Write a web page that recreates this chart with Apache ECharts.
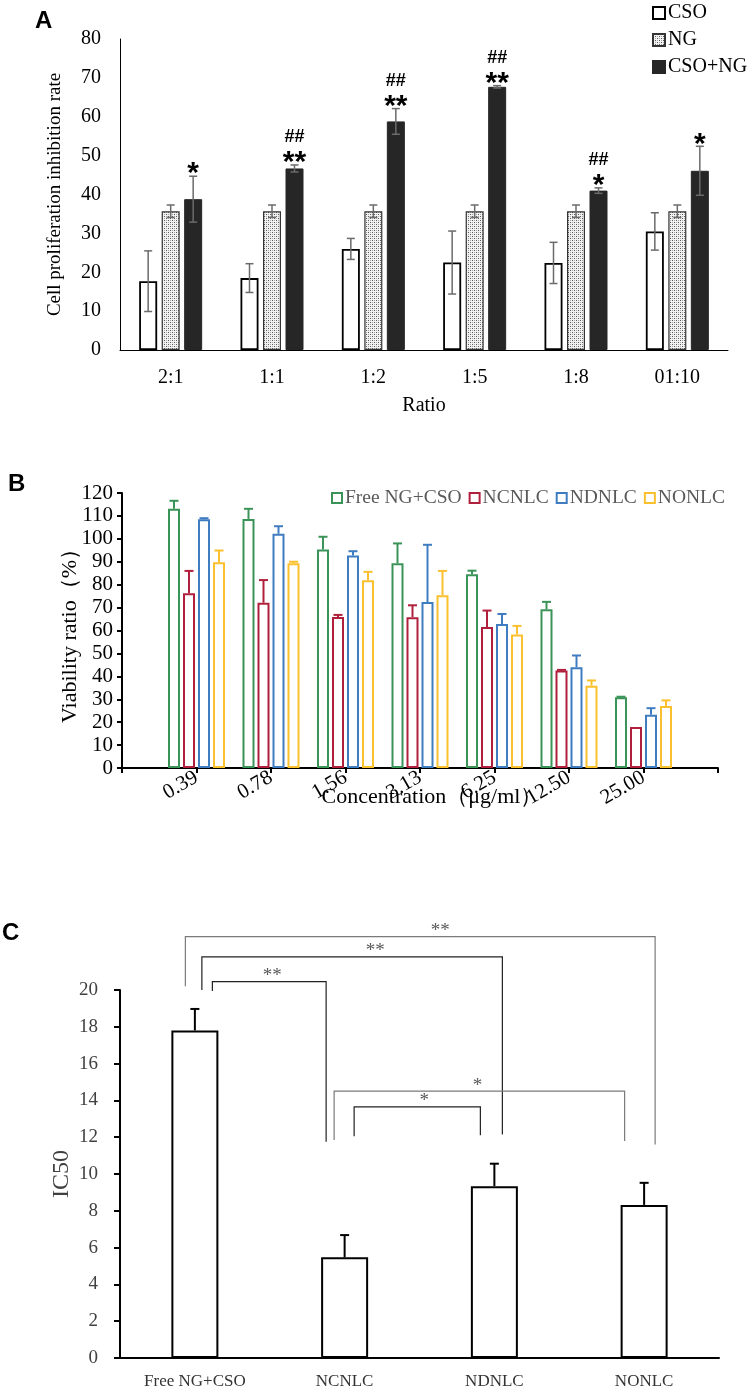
<!DOCTYPE html>
<html><head><meta charset="utf-8">
<script src="https://cdn.jsdelivr.net/npm/echarts@6/dist/echarts.min.js"></script>
<style>html,body{margin:0;padding:0;background:#fff}#c{width:755px;height:1390px}</style>
</head><body><div id="c"></div>
<script>
// ---------- Panel A data ----------
const ratioCats = ['2:1', '1:1', '1:2', '1:5', '1:8', '01:10'];
const csoMean = [17.7, 18.5, 26.0, 22.5, 22.4, 30.5];
const csoSd = [7.8, 3.7, 2.7, 8.1, 5.3, 4.8];
const ngMean = [35.7, 35.7, 35.7, 35.7, 35.7, 35.7];
const ngSd = [1.6, 1.6, 1.6, 1.6, 1.6, 1.6];
const comboMean = [38.8, 46.7, 58.8, 67.7, 41.0, 46.1];
const comboSd = [5.9, 0.9, 3.3, 0.3, 0.7, 6.3];
const comboStars = ['*', '**', '**', '**', '*', '*'];
const comboHash = ['', '##', '##', '##', '##', ''];

// ---------- Panel B data ----------
const concCats = ['0.39', '0.78', '1.56', '3.13', '6.25', '12.50', '25.00'];
const freeMean = [113.1, 108.7, 95.3, 89.3, 84.6, 69.3, 30.9];
const freeSd = [3.5, 4.4, 5.6, 8.7, 1.5, 3.2, 0.2];
const ncMean = [76.3, 72.1, 65.9, 65.8, 61.5, 42.6, 17.9];
const ncSd = [9.7, 9.9, 0.9, 5.2, 7.2, 0.2, 0];
const ndMean = [108.6, 102.2, 92.7, 72.4, 62.8, 44.0, 23.2];
const ndSd = [0.4, 3.3, 1.9, 25.0, 4.4, 5.1, 2.9];
const noMean = [89.8, 89.4, 81.9, 75.4, 58.3, 35.9, 27.1];
const noSd = [5.1, 0.6, 3.7, 10.6, 3.7, 2.3, 2.4];

// ---------- Panel C data ----------
const ic50Cats = ['Free NG+CSO', 'NCNLC', 'NDNLC', 'NONLC'];
const ic50Mean = [17.8, 5.47, 9.34, 8.32];
const ic50Sd = [1.17, 1.21, 1.22, 1.2];
const sigPairs = [[0, 3], [0, 2], [0, 1], [1, 3], [1, 2]];
const sigLabels = ['**', '**', '**', '*', '*'];
const bracketTop = [22.9, 21.8, 20.45, 14.5, 13.65];
const bracketLegL = [20.2, 20.0, 19.95, 11.85, 12.05];
const bracketLegR = [11.6, 12.15, 11.75, 11.8, 12.1];

// ---------- styling ----------
const serif = "'Liberation Serif','Times New Roman',serif";
const sans = "'Liberation Sans',Arial,sans-serif";
const bracketOffL = [-9.5, 7, 17.5, -10.5, 9.5];
const bracketOffR = [11, 8, -18.5, -19.5, -14];
const bracketColor = ['#7a7a7a', '#222', '#222', '#7a7a7a', '#222'];
const bracketLabelShift = [20, 23, 3, -2, 7];
const colB = ['#3a9458', '#b0203c', '#3f7cc0', '#fbc02d'];
const barWA = 18, gapA = 0.25, barWB = 12, gapB = 0.25, barWC = 47;

function makePattern() {
  const c = document.createElement('canvas'); c.width = 4; c.height = 4;
  const g = c.getContext('2d');
  g.fillStyle = '#f2f2f2'; g.fillRect(0, 0, 4, 4);
  g.fillStyle = '#5a5a5a'; g.fillRect(0, 0, 1, 1); g.fillRect(2, 2, 1, 1);
  g.fillStyle = '#a8a8a8'; g.fillRect(2, 0, 1, 1); g.fillRect(0, 2, 1, 1);
  return c;
}
const ngPattern = { image: makePattern(), repeat: 'repeat' };

function errorBars(o) {
  return {
    type: 'custom', xAxisIndex: o.xi, yAxisIndex: o.xi, z: 10, silent: true,
    data: o.means.map((m, i) => [i + o.shift, m, o.sds[i]]),
    renderItem: function (params, api) {
      const cat = api.value(0), m = api.value(1), s = api.value(2);
      if (!(s > 0)) return null;
      const off = (o.k - (o.n - 1) / 2) * o.barW * (1 + o.gap);
      const base = api.coord([cat, m]);
      const top = api.coord([cat, m + s]);
      const bot = api.coord([cat, m - s]);
      const x = base[0] + off;
      const y2 = o.both ? bot[1] : base[1];
      const st = { stroke: o.color, lineWidth: o.lw };
      const ch = [
        { type: 'line', shape: { x1: x, y1: top[1], x2: x, y2: y2 }, style: st },
        { type: 'line', shape: { x1: x - o.cap / 2, y1: top[1], x2: x + o.cap / 2, y2: top[1] }, style: st }
      ];
      if (o.both) ch.push({ type: 'line', shape: { x1: x - o.cap / 2, y1: bot[1], x2: x + o.cap / 2, y2: bot[1] }, style: st });
      return { type: 'group', children: ch };
    }
  };
}
function padVals(arr) { return ['-'].concat(arr, ['-']); }
function padCats(arr) { return [''].concat(arr, ['']); }

const axisLbl = (size, color, margin) => ({ fontFamily: serif, fontSize: size, color: color, margin: margin });

const option = {
  animation: false,
  backgroundColor: '#fff',
  graphic: [
    { type: 'text', left: 35, top: 9, style: { text: 'A', font: 'bold 24px ' + sans, fill: '#000' } },
    { type: 'text', left: 8, top: 472, style: { text: 'B', font: 'bold 24px ' + sans, fill: '#000' } },
    { type: 'text', left: 2, top: 921, style: { text: 'C', font: 'bold 24px ' + sans, fill: '#000' } }
  ],
  legend: [
    { data: ['CSO', 'NG', 'CSO+NG'], orient: 'vertical', left: 652, top: 3, padding: 0, itemWidth: 12, itemHeight: 12, itemGap: 7,
      icon: 'rect', selectedMode: false, textStyle: { fontFamily: serif, fontSize: 20, color: '#000', padding: [0, 0, 0, -2] } },
    { data: ['Free NG+CSO', 'NCNLC', 'NDNLC', 'NONLC'], left: 331, top: 488, padding: 0, itemWidth: 10, itemHeight: 10, itemGap: 7,
      icon: 'rect', selectedMode: false, textStyle: { fontFamily: serif, fontSize: 19.5, color: '#595959', padding: [0, 0, 0, -2] } }
  ],
  grid: [
    { left: 120, top: 39, width: 608, height: 311 },
    { left: 122, top: 493, width: 596, height: 275 },
    { left: 120, top: 990, width: 599, height: 373 }
  ],
  xAxis: [
    { type: 'category', gridIndex: 0, data: ratioCats,
      axisLine: { lineStyle: { color: '#000', width: 1 } }, axisTick: { show: false },
      axisLabel: axisLbl(20, '#000', 18),
      name: 'Ratio', nameLocation: 'middle', nameGap: 46, nameMoveOverlap: false,
      nameTextStyle: { fontFamily: serif, fontSize: 20, color: '#000' } },
    { type: 'category', gridIndex: 1, data: padCats(concCats), boundaryGap: false,
      axisLine: { lineStyle: { color: '#000', width: 2 } },
      axisTick: { show: true, interval: 0, length: 5, lineStyle: { color: '#000', width: 2 } },
      axisLabel: Object.assign(axisLbl(21, '#000', 8), { interval: 0, rotate: 30 }),
      name: 'Concentration（μg/ml）', nameLocation: 'middle', nameGap: 18, nameMoveOverlap: false,
      nameTextStyle: { fontFamily: serif, fontSize: 22, color: '#000', padding: [0, 0, 0, 24] } },
    { type: 'category', gridIndex: 2, data: ic50Cats,
      axisLine: { lineStyle: { color: '#000', width: 2 } }, axisTick: { show: false },
      axisLabel: axisLbl(17, '#333', 15) }
  ],
  yAxis: [
    { type: 'value', gridIndex: 0, min: 0, max: 80, interval: 10,
      axisLine: { show: true, lineStyle: { color: '#000', width: 1 } }, axisTick: { show: false }, splitLine: { show: false },
      axisLabel: axisLbl(20, '#000', 19),
      name: 'Cell proliferation inhibition rate', nameLocation: 'middle', nameGap: 55, nameMoveOverlap: false,
      nameTextStyle: { fontFamily: serif, fontSize: 19, color: '#000' } },
    { type: 'value', gridIndex: 1, min: 0, max: 120, interval: 10,
      axisLine: { show: true, lineStyle: { color: '#000', width: 2 } },
      axisTick: { show: true, length: 5, lineStyle: { color: '#000', width: 2 } }, splitLine: { show: false },
      axisLabel: axisLbl(21, '#000', 9),
      name: 'Viability ratio（%）', nameLocation: 'middle', nameGap: 41, nameMoveOverlap: false,
      nameTextStyle: { fontFamily: serif, fontSize: 22, color: '#000' } },
    { type: 'value', gridIndex: 2, min: 0, max: 20, interval: 2,
      axisLine: { show: true, lineStyle: { color: '#000', width: 2 } },
      axisTick: { show: true, length: 6, lineStyle: { color: '#000', width: 2 } }, splitLine: { show: false },
      axisLabel: axisLbl(19, '#404040', 22),
      name: 'IC50', nameLocation: 'middle', nameGap: 46, nameMoveOverlap: false,
      nameTextStyle: { fontFamily: serif, fontSize: 24, color: '#404040' } }
  ],
  series: []
};

// Panel A bars
const aStyles = [
  { color: '#fff', borderColor: '#000', borderWidth: 1.8 },
  { color: ngPattern, borderColor: '#333', borderWidth: 1.2 },
  { color: '#262626', borderColor: '#262626', borderWidth: 1 }
];
const aNames = ['CSO', 'NG', 'CSO+NG'];
const aMeans = [csoMean, ngMean, comboMean];
const aSds = [csoSd, ngSd, comboSd];
aNames.forEach((nm, k) => {
  option.series.push({ type: 'bar', name: nm, xAxisIndex: 0, yAxisIndex: 0, barWidth: barWA, barGap: (gapA * 100) + '%',
    itemStyle: aStyles[k], data: aMeans[k], silent: true });
});
aNames.forEach((nm, k) => {
  option.series.push(errorBars({ xi: 0, means: aMeans[k], sds: aSds[k], n: 3, k: k, barW: barWA, gap: gapA,
    color: '#6b6b6b', lw: 1.5, cap: 8, both: true, shift: 0 }));
});
// Panel A significance marks
option.series.push({
  type: 'custom', xAxisIndex: 0, yAxisIndex: 0, z: 20, silent: true,
  data: comboMean.map((m, i) => [i, m + comboSd[i]]),
  renderItem: function (params, api) {
    const i = params.dataIndex;
    const p = api.coord([api.value(0), api.value(1)]);
    const x = p[0] + barWA * (1 + gapA);
    const ch = [{ type: 'text', style: { text: comboStars[i], x: x, y: p[1] - 2, align: 'center', verticalAlign: 'middle',
      font: 'bold 30px ' + sans, fill: '#000' } }];
    if (comboHash[i]) ch.push({ type: 'text', style: { text: comboHash[i], x: x, y: p[1] - 28, align: 'center', verticalAlign: 'middle',
      font: 'bold 18px ' + sans, fill: '#000' } });
    return { type: 'group', children: ch };
  }
});

// Panel B bars
const bNames = ['Free NG+CSO', 'NCNLC', 'NDNLC', 'NONLC'];
const bMeans = [freeMean, ncMean, ndMean, noMean];
const bSds = [freeSd, ncSd, ndSd, noSd];
bNames.forEach((nm, k) => {
  option.series.push({ type: 'bar', name: nm, xAxisIndex: 1, yAxisIndex: 1, barWidth: barWB, barGap: (gapB * 100) + '%',
    itemStyle: { color: '#fff', borderColor: colB[k], borderWidth: 2 }, data: padVals(bMeans[k]), silent: true });
});
bNames.forEach((nm, k) => {
  option.series.push(errorBars({ xi: 1, means: bMeans[k], sds: bSds[k], n: 4, k: k, barW: barWB, gap: gapB,
    color: colB[k], lw: 2, cap: 9, both: false, shift: 1 }));
});

// Panel C bars
option.series.push({ type: 'bar', name: 'IC50', xAxisIndex: 2, yAxisIndex: 2, barWidth: barWC,
  itemStyle: { color: '#fff', borderColor: '#000', borderWidth: 2 }, data: ic50Mean, silent: true });
option.series.push(errorBars({ xi: 2, means: ic50Mean, sds: ic50Sd, n: 1, k: 0, barW: barWC, gap: 0,
  color: '#000', lw: 2, cap: 9, both: false, shift: 0 }));
// Panel C brackets
option.series.push({
  type: 'custom', xAxisIndex: 2, yAxisIndex: 2, z: 20, silent: true, clip: false,
  data: sigPairs.map((p, k) => [p[0], bracketTop[k]]),
  renderItem: function (params, api) {
    const k = params.dataIndex;
    const a = sigPairs[k][0], b = sigPairs[k][1];
    const top = api.coord([a, bracketTop[k]])[1];
    const xl = api.coord([a, 0])[0] + bracketOffL[k];
    const xr = api.coord([b, 0])[0] + bracketOffR[k];
    const yl = api.coord([a, bracketLegL[k]])[1];
    const yr = api.coord([b, bracketLegR[k]])[1];
    return { type: 'group', children: [
      { type: 'polyline', shape: { points: [[xl, yl], [xl, top], [xr, top], [xr, yr]] },
        style: { stroke: bracketColor[k], lineWidth: 1.2, fill: null } },
      { type: 'text', style: { text: sigLabels[k], x: (xl + xr) / 2 + bracketLabelShift[k], y: top + 4,
        align: 'center', verticalAlign: 'bottom', font: '19px ' + serif, fill: '#595959' } }
    ] };
  }
});

const chart = echarts.init(document.getElementById('c'));
chart.setOption(option);
</script>
</body></html>
